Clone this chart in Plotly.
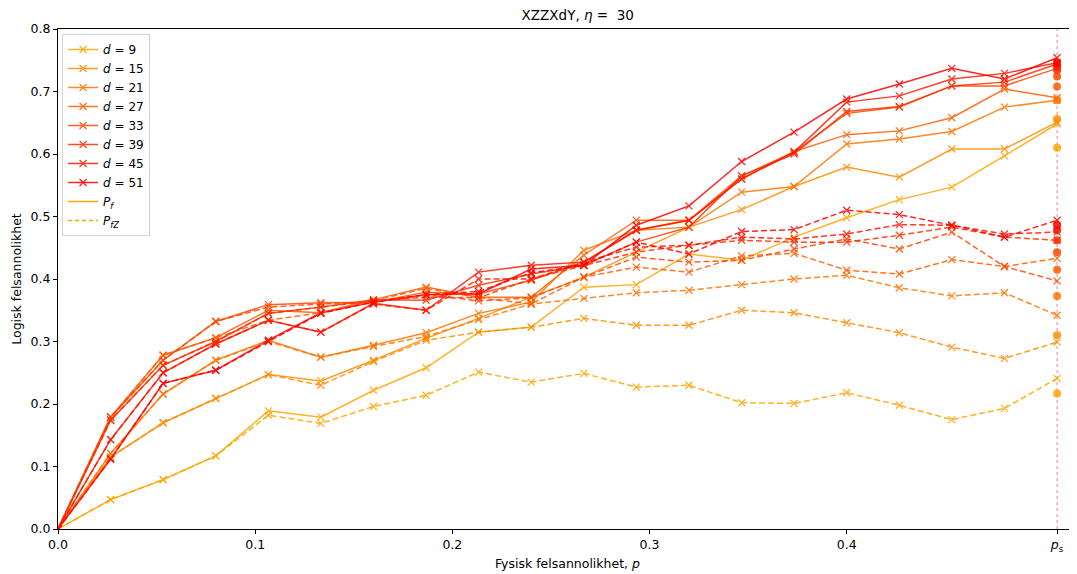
import plotly.graph_objects as go

# Physical error probability values (x positions of the markers)
p = [0.0, 0.0267, 0.0533, 0.08, 0.1067, 0.1333, 0.16, 0.1867, 0.2133, 0.24,
     0.2667, 0.2933, 0.32, 0.3467, 0.3733, 0.4, 0.4267, 0.4533, 0.48, 0.5067]
p_s = 0.5067

distances = [9, 15, 21, 27, 33, 39, 45, 51]

# Logical failure rate P_f (solid)
pf_9  = [0, .047, .079, .117, .189, .179, .222, .258, .315, .323, .387, .391, .440, .430, .467, .498, .527, .547, .597, .648]
pf_15 = [0, .115, .170, .209, .247, .237, .270, .305, .337, .371, .403, .443, .483, .511, .548, .579, .563, .608, .608, .651]
pf_21 = [0, .121, .216, .270, .302, .275, .294, .314, .345, .363, .446, .478, .483, .539, .548, .616, .624, .636, .675, .686]
pf_27 = [0, .179, .278, .306, .350, .346, .367, .387, .371, .371, .438, .494, .494, .560, .604, .631, .637, .658, .704, .690]
pf_33 = [0, .179, .270, .332, .359, .362, .363, .379, .376, .398, .427, .478, .494, .565, .603, .665, .675, .709, .709, .737]
pf_39 = [0, .174, .262, .300, .345, .355, .367, .366, .390, .408, .422, .459, .483, .565, .600, .668, .676, .709, .715, .744]
pf_45 = [0, .143, .250, .296, .334, .315, .361, .350, .411, .422, .427, .478, .494, .560, .603, .683, .693, .720, .729, .746]
pf_51 = [0, .112, .233, .254, .302, .346, .363, .375, .376, .416, .422, .486, .517, .588, .635, .688, .712, .737, .720, .754]

# Logical Z failure rate P_fZ (dashed)
pfz_9  = [0, .047, .079, .117, .182, .169, .196, .214, .251, .235, .249, .227, .230, .202, .201, .218, .198, .175, .193, .241]
pfz_15 = [0, .115, .170, .209, .247, .230, .268, .302, .315, .323, .337, .326, .326, .350, .346, .330, .314, .291, .273, .299]
pfz_21 = [0, .121, .216, .270, .300, .275, .292, .308, .335, .360, .369, .378, .382, .391, .400, .406, .386, .373, .378, .342]
pfz_27 = [0, .179, .278, .306, .334, .346, .365, .385, .370, .360, .403, .419, .411, .437, .441, .414, .408, .431, .420, .433]
pfz_33 = [0, .179, .270, .332, .355, .360, .363, .375, .365, .370, .403, .435, .427, .430, .448, .464, .448, .475, .420, .397]
pfz_39 = [0, .174, .262, .300, .345, .355, .365, .371, .370, .400, .422, .443, .454, .462, .459, .459, .470, .483, .467, .462]
pfz_45 = [0, .143, .250, .296, .334, .315, .360, .350, .400, .400, .427, .451, .454, .467, .464, .472, .487, .486, .472, .475]
pfz_51 = [0, .112, .233, .254, .300, .345, .363, .375, .380, .410, .422, .459, .440, .476, .479, .510, .503, .486, .467, .494]

# Values at p_s (filled circles)
ps_pf  = [0.610, 0.656, 0.686, 0.708, 0.724, 0.734, 0.740, 0.746]
ps_pfz = [0.217, 0.310, 0.373, 0.415, 0.443, 0.462, 0.478, 0.486]

pf_all = [pf_9, pf_15, pf_21, pf_27, pf_33, pf_39, pf_45, pf_51]
pfz_all = [pfz_9, pfz_15, pfz_21, pfz_27, pfz_33, pfz_39, pfz_45, pfz_51]

colors = ["rgb(255,165,0)", "rgb(255,141,0)", "rgb(255,118,0)", "rgb(255,94,0)",
          "rgb(255,71,0)", "rgb(255,47,0)", "rgb(255,24,0)", "rgb(255,0,0)"]

FONT = "DejaVu Sans"
fig = go.Figure()

for d, c, ys in zip(distances, colors, pf_all):
    fig.add_trace(go.Scatter(
        x=p, y=ys, mode="lines+markers", name=f"<i>d</i> = {d}",
        line=dict(color=c, width=1.5),
        marker=dict(symbol="x-thin", size=7, line=dict(color=c, width=1.3)),
        opacity=0.85, showlegend=True))

for d, c, ys in zip(distances, colors, pfz_all):
    fig.add_trace(go.Scatter(
        x=p, y=ys, mode="lines+markers", name=f"d{d} fz",
        line=dict(color=c, width=1.5, dash="6px,3px"),
        marker=dict(symbol="x-thin", size=7, line=dict(color=c, width=1.3)),
        opacity=0.85, showlegend=False))

# circles at p_s
for c, v1, v2 in zip(colors, ps_pf, ps_pfz):
    fig.add_trace(go.Scatter(
        x=[p_s, p_s], y=[v1, v2], mode="markers",
        marker=dict(symbol="circle", size=8, color=c),
        opacity=0.85, showlegend=False, hoverinfo="skip"))

# legend-only entries
fig.add_trace(go.Scatter(x=[None], y=[None], mode="lines", name="<i>P</i><sub><i>f</i></sub>",
                         line=dict(color="rgb(255,165,0)", width=1.5)))
fig.add_trace(go.Scatter(x=[None], y=[None], mode="lines", name="<i>P</i><sub><i>fZ</i></sub>",
                         line=dict(color="rgb(255,165,0)", width=1.5, dash="4px,3px")))

# vertical dotted line at p_s
fig.add_shape(type="line", x0=p_s, x1=p_s, y0=0, y1=0.8, xref="x", yref="y",
              line=dict(color="rgba(255,60,60,0.5)", width=1.3, dash="dot"), layer="below")

# page has an 8px body margin, so the figure is sized to end at the window edge
fig.update_layout(
    width=1069, height=566,
    margin=dict(l=50, r=0, t=21, b=45, autoexpand=False),
    plot_bgcolor="white", paper_bgcolor="white",
    font=dict(family=FONT, size=12.5, color="black"),
    title=dict(text="XZZXdY, <i>η</i> =  30", x=0.533, xanchor="center", y=0.987, yanchor="middle",
               font=dict(family=FONT, size=13.5, color="black")),
    legend=dict(x=0.004, y=0.99, xanchor="left", yanchor="top",
                bgcolor="rgba(255,255,255,0.8)", bordercolor="rgb(210,210,210)", borderwidth=1,
                font=dict(family=FONT, size=12), tracegroupgap=0, itemwidth=30),
    showlegend=True,
)

fig.update_xaxes(range=[0, 0.5168], tickvals=[0, 0.1, 0.2, 0.3, 0.4, p_s],
                 ticktext=["0.0", "0.1", "0.2", "0.3", "0.4", "<i>p</i><sub>s</sub>"],
                 ticks="outside", ticklen=4, tickcolor="black", showgrid=False, zeroline=False,
                 showline=True, linecolor="black", linewidth=1, mirror=True, automargin=False,
                 title=dict(text="Fysisk felsannolikhet, <i>p</i>", standoff=6, font=dict(size=12.5)))
fig.update_yaxes(range=[0, 0.8], tickvals=[0, 0.1, 0.2, 0.3, 0.4, 0.5, 0.6, 0.7, 0.8],
                 ticktext=["0.0", "0.1", "0.2", "0.3", "0.4", "0.5", "0.6", "0.7", "0.8"],
                 ticks="outside", ticklen=4, tickcolor="black", showgrid=False, zeroline=False,
                 showline=True, linecolor="black", linewidth=1, mirror=True, automargin=False,
                 title=dict(text="Logisk felsannolikhet", standoff=6, font=dict(size=12.5)))

fig.write_html("out.html")
